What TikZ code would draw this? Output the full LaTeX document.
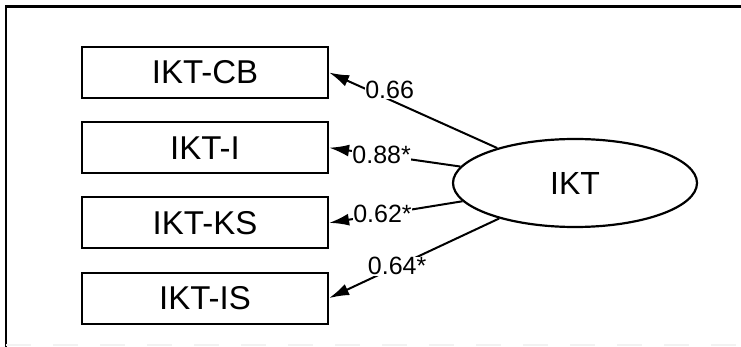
\documentclass[tikz,border=0pt]{standalone}
\usepackage{fontspec}
\setmainfont{Liberation Sans}
\usetikzlibrary{positioning, shapes.geometric, arrows.meta}

\tikzset{
  indicator/.style={draw, line width=2.2pt, minimum width=246pt, minimum height=51pt, inner sep=0pt, font=\fontsize{33}{38}\selectfont},
  latent/.style={ellipse, draw, line width=2.2pt, minimum width=244pt, minimum height=88pt, inner sep=0pt, font=\fontsize{32}{37}\selectfont},
  loadarrow/.style={-{Latex[length=20pt, width=12pt]}, line width=2pt},
  loading/.style={fill=white, inner sep=0.5pt, font=\fontsize{25}{28}\selectfont, pos=0.6}
}

\begin{document}
\begin{tikzpicture}[x=1pt, y=-1pt, line width=2.2pt, node distance=22pt]
    \useasboundingbox (0,0) rectangle (741,347);
    % frame
    \draw (741,6.5) -- (6,6.5) -- (6,347);
    \draw[black!5, dash pattern=on 25pt off 22pt] (6,345) -- (741,345);

    \node[indicator] (cb) at (205,72.5) {IKT-CB};
    \node[indicator] (i) [below=of cb] {IKT-I};
    \node[indicator] (ks) [below=of i] {IKT-KS};
    \node[indicator] (is) [below=of ks] {IKT-IS};
    \node[latent] (ikt) at (575,183) {IKT};

    \path[loadarrow]
    (ikt) edge node[loading, pos=0.64, yshift=10pt] {0.66} (cb.east)
    (ikt) edge node[loading] {0.88*} (i.east)
    (ikt) edge node[loading] {0.62*} (ks.east)
    (ikt) edge node[loading] {0.64*} (is.east);
\end{tikzpicture}
\end{document}
